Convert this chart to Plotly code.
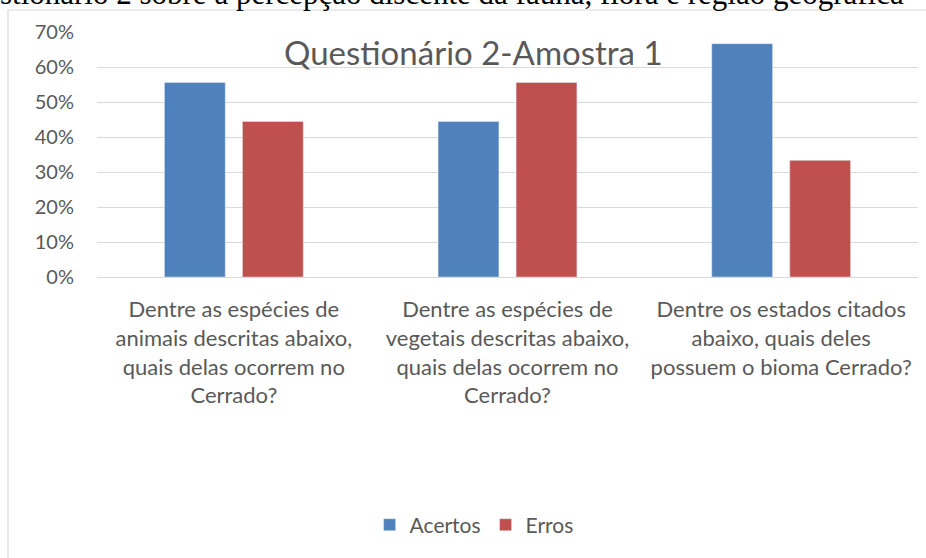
import plotly.graph_objects as go

categories = [
    "Dentre as espécies de<br>animais descritas abaixo,<br>quais delas ocorrem no<br>Cerrado?",
    "Dentre as espécies de<br>vegetais descritas abaixo,<br>quais delas ocorrem no<br>Cerrado?",
    "Dentre os estados citados<br>abaixo, quais deles<br>possuem o bioma Cerrado?",
]
acertos = [0.5556, 0.4444, 0.6667]
erros = [0.4444, 0.5556, 0.3333]
series_names = ["Acertos", "Erros"]
chart_title = "Questionário 2-Amostra 1"
caption_text = "stionário 2 sobre a percepção discente da fauna, flora e região geográfica"

W, H = 926, 558
L, R, T, B = 97, 8, 32, 281
PW = W - L - R
PH = H - T - B


def px_x(p):
    return (p - L) / PW


def px_y(p):
    return (H - B - p) / PH


FONT = "Lato"
GRAY = "#595959"

fig = go.Figure()
fig.add_trace(go.Bar(name=series_names[0], x=categories, y=acertos, marker_color="#4F81BD"))
fig.add_trace(go.Bar(name=series_names[1], x=categories, y=erros, marker_color="#C0504D"))

fig.update_layout(
    width=W, height=H,
    margin=dict(l=L, r=R, t=T, b=B, autoexpand=False),
    paper_bgcolor="white", plot_bgcolor="white",
    barmode="group", bargap=0.43, bargroupgap=0.22,
    font=dict(family=FONT, color=GRAY),
    showlegend=True,
    legend=dict(orientation="h", xref="container", yref="container",
                x=0.512, y=0.059, xanchor="center", yanchor="middle",
                font=dict(size=21, color=GRAY), itemwidth=30,
                traceorder="normal"),
)
fig.update_yaxes(range=[0, 0.7], dtick=0.1, tickformat=".0%",
                 showgrid=True, gridcolor="#D9D9D9", gridwidth=1,
                 zeroline=False, showline=False,
                 ticks="outside", ticklen=18, tickcolor="rgba(0,0,0,0)",
                 tickfont=dict(size=20, color=GRAY), fixedrange=True)
fig.update_xaxes(showgrid=False, showline=True, linecolor="#D9D9D9", linewidth=1,
                 ticks="outside", ticklen=13, tickcolor="rgba(0,0,0,0)",
                 tickfont=dict(size=22, color=GRAY), tickangle=0, fixedrange=True)

# title inside plot area
fig.add_annotation(text=chart_title, xref="paper", yref="paper",
                   x=px_x(473), y=px_y(52), xanchor="center", yanchor="middle",
                   showarrow=False, font=dict(size=33, color=GRAY, family=FONT))

# cut-off document caption above chart
fig.add_annotation(text=caption_text, xref="paper", yref="paper",
                   x=px_x(-2), y=px_y(-6), xanchor="left", yanchor="middle",
                   showarrow=False,
                   font=dict(size=31, color="black", family="Liberation Serif"))

# chart border
fig.add_shape(type="rect", xref="paper", yref="paper",
              x0=px_x(8), y0=px_y(600), x1=px_x(960), y1=px_y(10),
              line=dict(color="#D9D9D9", width=1.2), fillcolor="rgba(0,0,0,0)",
              layer="below")

fig.write_html("out.html", config={"displayModeBar": False},
               post_script="document.body.style.margin='0';document.body.style.overflow='hidden';")
